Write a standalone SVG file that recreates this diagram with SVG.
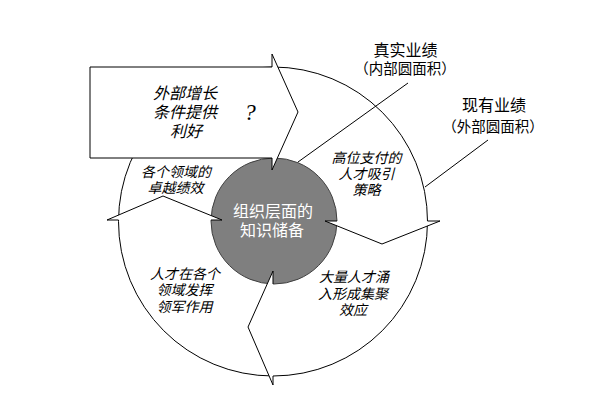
<svg xmlns="http://www.w3.org/2000/svg" width="606" height="419" viewBox="0 0 606 419">
<style>
.ln{fill:none;stroke:#000;stroke-width:1}
.wf{fill:#fff;stroke:none}
.lbl{font-family:"Liberation Sans","Noto Sans CJK SC",sans-serif;fill:#000;text-anchor:middle;dominant-baseline:central}
.it{font-family:"Liberation Sans","Noto Sans CJK SC",sans-serif;font-style:italic;font-size:14px;fill:#000;text-anchor:middle;dominant-baseline:central}
.core{font-family:"Liberation Sans","Noto Sans CJK SC",sans-serif;font-size:16px;fill:#fff;text-anchor:middle;dominant-baseline:central}
</style>
<rect width="606" height="419" fill="#fff"/>
<g id="ring">
<circle cx="273" cy="221.5" r="154.5" fill="#fff" stroke="#000" stroke-width="1"/>
</g>
<g id="core">
<circle cx="274" cy="221" r="63" fill="#7f7f7f" stroke="#404040" stroke-width="1"/>
<text class="core" x="273" y="211">组织层面的</text>
<text class="core" x="272" y="230">知识储备</text>
</g>
<g id="connectors">
<line class="ln" x1="408" y1="83" x2="298" y2="162"/>
<line class="ln" x1="488" y1="140" x2="425" y2="187"/>
</g>
<g id="arrowhead-right">
<polygon class="wf" points="325,221 440,221 382,244"/>
<polyline class="ln" points="440,221 382,244 325,221"/>
<line class="ln" x1="427.5" y1="221" x2="440" y2="221"/>
<line class="ln" x1="325" y1="221" x2="337" y2="221"/>
</g>
<g id="arrowhead-bottom">
<polygon class="wf" points="273,271 273,385 248,327"/>
<polyline class="ln" points="273,271 248,327 273,385"/>
<line class="ln" x1="273" y1="376" x2="273" y2="385"/>
<line class="ln" x1="273" y1="271" x2="273" y2="284"/>
</g>
<g id="arrowhead-left">
<polygon class="wf" points="107,220 222,220 163,196"/>
<polyline class="ln" points="107,220 163,196 222,220"/>
<line class="ln" x1="107" y1="220" x2="118.5" y2="220"/>
<line class="ln" x1="211" y1="220" x2="222" y2="220"/>
</g>
<g id="external-arrow">
<polygon points="90,67 272,67 272,54 298,112 272,170 272,158 90,158" fill="#fff" stroke="#000" stroke-width="1"/>
<text class="it" style="font-size:16px" x="185" y="93">外部增长</text>
<text class="it" style="font-size:16px" x="185" y="112">条件提供</text>
<text class="it" style="font-size:16px" x="186" y="131">利好</text>
<text x="250" y="120" style="font-family:'Liberation Serif',serif;font-style:italic;font-size:23px;text-anchor:middle" fill="#000">?</text>
</g>
<g id="seg-top-left">
<text class="it" x="176" y="171.5">各个领域的</text>
<text class="it" x="175.5" y="187.5">卓越绩效</text>
</g>
<g id="seg-top-right">
<text class="it" x="366.5" y="158">高位支付的</text>
<text class="it" x="366.5" y="174">人才吸引</text>
<text class="it" x="366.5" y="190">策略</text>
</g>
<g id="seg-bottom-left">
<text class="it" x="185" y="274">人才在各个</text>
<text class="it" x="184.5" y="290">领域发挥</text>
<text class="it" x="184.5" y="307">领军作用</text>
</g>
<g id="seg-bottom-right">
<text class="it" x="354" y="277">大量人才涌</text>
<text class="it" x="353" y="294">入形成集聚</text>
<text class="it" x="353" y="310">效应</text>
</g>
<g id="label-inner">
<text class="lbl" style="font-size:16px" x="405.5" y="50">真实业绩</text>
<text class="lbl" style="font-size:14.5px" x="405" y="68.5">（内部圆面积）</text>
</g>
<g id="label-outer">
<text class="lbl" style="font-size:16px" x="494" y="105.5">现有业绩</text>
<text class="lbl" style="font-size:14.5px" x="493" y="127">（外部圆面积）</text>
</g>
</svg>
